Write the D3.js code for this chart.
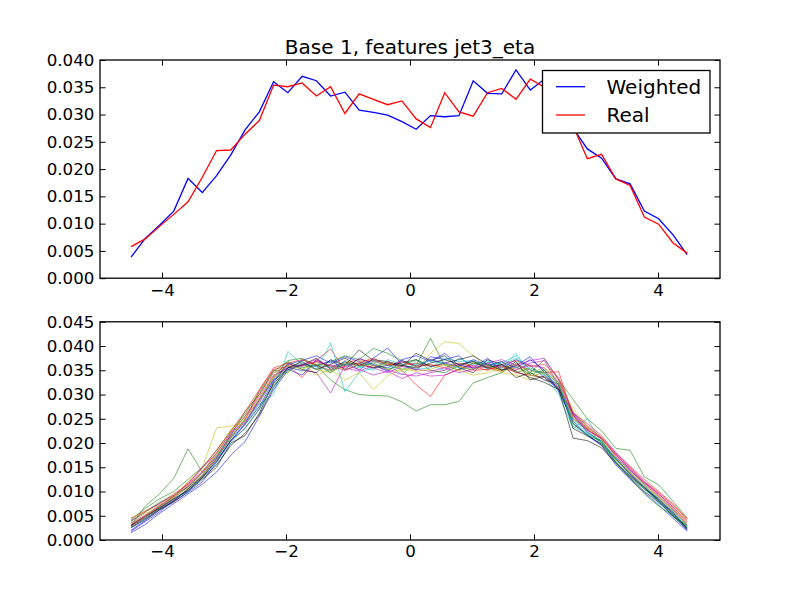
<!DOCTYPE html>
<html>
<head>
<meta charset="utf-8">
<script src="https://cdn.jsdelivr.net/npm/d3@7"></script>
<style>
  body { margin: 0; background: #fff; }
  svg { display: block; font-family: "DejaVu Sans", sans-serif; }
</style>
</head>
<body>
<svg id="chart" width="800" height="600"></svg>
<script>
// bin centres shared by both panels
const binCenters = [-4.50, -4.27, -4.04, -3.81, -3.58, -3.35, -3.12, -2.89, -2.66, -2.43,
  -2.20, -1.97, -1.74, -1.51, -1.28, -1.05, -0.82, -0.59, -0.36, -0.13,
  0.10, 0.33, 0.56, 0.79, 1.02, 1.25, 1.48, 1.71, 1.94, 2.17,
  2.40, 2.63, 2.86, 3.09, 3.32, 3.55, 3.78, 4.01, 4.24, 4.47];

// top panel
const weighted = [0.00385, 0.0073, 0.0097, 0.0123, 0.0183, 0.0157, 0.0188, 0.0226, 0.0272, 0.0305,
  0.0360, 0.0340, 0.0370, 0.0362, 0.0334, 0.0341, 0.0308, 0.0304, 0.0299, 0.0287,
  0.0273, 0.0298, 0.0296, 0.0298, 0.0362, 0.0339, 0.0338, 0.0382, 0.0345, 0.0365,
  0.0320, 0.0275, 0.0237, 0.0220, 0.0182, 0.0173, 0.0123, 0.0109, 0.0080, 0.0043];
const real = [0.0058, 0.0072, 0.0095, 0.0117, 0.0140, 0.0185, 0.0234, 0.0235, 0.0264, 0.0289,
  0.0354, 0.0351, 0.0358, 0.0334, 0.0351, 0.0302, 0.0338, 0.0328, 0.0318, 0.0325,
  0.0292, 0.0276, 0.0340, 0.0305, 0.0297, 0.0340, 0.0348, 0.0328, 0.0365, 0.0350,
  0.0330, 0.0280, 0.0219, 0.0227, 0.0182, 0.0170, 0.0112, 0.0099, 0.0065, 0.0046];

// bottom panel, one array per line
const run01 = [0.0020,0.0040,0.0062,0.0080,0.0098,0.0120,0.0160,0.0205,0.0240,0.0290,0.0330,0.0352,0.0340,0.0372,0.0355,0.0368,0.0350,0.0375,0.0396,0.0362,0.0350,0.0378,0.0372,0.0380,0.0352,0.0365,0.0355,0.0372,0.0360,0.0335,0.0310,0.0262,0.0230,0.0200,0.0165,0.0135,0.0110,0.0085,0.0058,0.0022];
const run02 = [0.0030,0.0070,0.0095,0.0127,0.0188,0.0140,0.0175,0.0215,0.0265,0.0300,0.0350,0.0345,0.0372,0.0360,0.0330,0.0310,0.0300,0.0298,0.0297,0.0285,0.0266,0.0279,0.0279,0.0286,0.0324,0.0335,0.0345,0.0365,0.0345,0.0372,0.0330,0.0290,0.0250,0.0225,0.0189,0.0185,0.0130,0.0114,0.0080,0.0045];
const run03 = [0.0045,0.0060,0.0075,0.0095,0.0115,0.0140,0.0180,0.0220,0.0255,0.0300,0.0345,0.0360,0.0335,0.0370,0.0394,0.0350,0.0362,0.0355,0.0368,0.0350,0.0320,0.0296,0.0340,0.0352,0.0365,0.0355,0.0348,0.0362,0.0350,0.0345,0.0347,0.0255,0.0232,0.0210,0.0175,0.0145,0.0118,0.0095,0.0068,0.0040];
const run04 = [0.0030,0.0050,0.0072,0.0088,0.0110,0.0138,0.0168,0.0210,0.0240,0.0280,0.0300,0.0389,0.0362,0.0352,0.0406,0.0306,0.0345,0.0355,0.0365,0.0340,0.0370,0.0360,0.0350,0.0375,0.0362,0.0370,0.0355,0.0385,0.0340,0.0335,0.0300,0.0230,0.0250,0.0200,0.0170,0.0145,0.0115,0.0075,0.0060,0.0028];
const run05 = [0.0035,0.0052,0.0070,0.0090,0.0112,0.0142,0.0172,0.0212,0.0245,0.0288,0.0338,0.0355,0.0350,0.0345,0.0303,0.0360,0.0352,0.0340,0.0348,0.0333,0.0345,0.0338,0.0340,0.0352,0.0360,0.0355,0.0352,0.0350,0.0365,0.0370,0.0318,0.0260,0.0228,0.0210,0.0172,0.0142,0.0118,0.0092,0.0065,0.0032];
const run06 = [0.0040,0.0055,0.0065,0.0088,0.0120,0.0150,0.0231,0.0235,0.0240,0.0275,0.0320,0.0345,0.0365,0.0340,0.0352,0.0330,0.0345,0.0310,0.0338,0.0355,0.0350,0.0385,0.0409,0.0405,0.0380,0.0355,0.0345,0.0340,0.0330,0.0352,0.0325,0.0270,0.0235,0.0208,0.0165,0.0138,0.0112,0.0088,0.0062,0.0035];
const run07 = [0.0025,0.0042,0.0062,0.0078,0.0100,0.0125,0.0150,0.0200,0.0215,0.0262,0.0325,0.0365,0.0352,0.0345,0.0372,0.0360,0.0392,0.0370,0.0365,0.0358,0.0385,0.0370,0.0380,0.0355,0.0345,0.0372,0.0362,0.0335,0.0345,0.0330,0.0322,0.0230,0.0215,0.0198,0.0168,0.0135,0.0105,0.0085,0.0055,0.0025];
const run08 = [0.0018,0.0038,0.0058,0.0082,0.0102,0.0128,0.0165,0.0205,0.0238,0.0275,0.0328,0.0362,0.0370,0.0380,0.0365,0.0378,0.0368,0.0360,0.0355,0.0372,0.0380,0.0368,0.0385,0.0360,0.0355,0.0375,0.0350,0.0360,0.0378,0.0345,0.0315,0.0258,0.0222,0.0202,0.0168,0.0138,0.0108,0.0082,0.0052,0.0020];
const run09 = [0.0038,0.0058,0.0078,0.0092,0.0110,0.0132,0.0168,0.0210,0.0250,0.0290,0.0335,0.0370,0.0375,0.0360,0.0368,0.0380,0.0372,0.0395,0.0385,0.0370,0.0360,0.0416,0.0360,0.0350,0.0365,0.0358,0.0368,0.0345,0.0355,0.0342,0.0310,0.0250,0.0225,0.0198,0.0160,0.0130,0.0105,0.0080,0.0048,0.0028];
const run10 = [0.0032,0.0050,0.0066,0.0082,0.0105,0.0132,0.0168,0.0218,0.0248,0.0308,0.0352,0.0358,0.0360,0.0368,0.0358,0.0365,0.0372,0.0368,0.0362,0.0360,0.0365,0.0358,0.0362,0.0358,0.0350,0.0352,0.0358,0.0345,0.0340,0.0335,0.0315,0.0252,0.0228,0.0208,0.0175,0.0148,0.0120,0.0098,0.0072,0.0045];
const run11 = [0.0028,0.0046,0.0064,0.0084,0.0104,0.0134,0.0172,0.0218,0.0245,0.0282,0.0330,0.0358,0.0348,0.0362,0.0355,0.0365,0.0358,0.0350,0.0372,0.0362,0.0352,0.0355,0.0375,0.0368,0.0370,0.0352,0.0365,0.0380,0.0352,0.0340,0.0318,0.0248,0.0220,0.0205,0.0168,0.0140,0.0112,0.0085,0.0058,0.0026];
const run12 = [0.0030,0.0050,0.0068,0.0086,0.0110,0.0138,0.0170,0.0215,0.0242,0.0285,0.0332,0.0362,0.0358,0.0368,0.0360,0.0355,0.0348,0.0360,0.0350,0.0342,0.0338,0.0345,0.0350,0.0362,0.0355,0.0358,0.0360,0.0352,0.0360,0.0355,0.0325,0.0258,0.0226,0.0210,0.0178,0.0145,0.0115,0.0090,0.0062,0.0030];
const run13 = [0.0034,0.0050,0.0070,0.0088,0.0108,0.0135,0.0170,0.0212,0.0250,0.0290,0.0335,0.0350,0.0362,0.0352,0.0345,0.0362,0.0370,0.0360,0.0352,0.0348,0.0360,0.0372,0.0362,0.0350,0.0340,0.0345,0.0355,0.0362,0.0345,0.0355,0.0330,0.0265,0.0230,0.0200,0.0165,0.0138,0.0110,0.0088,0.0060,0.0032];
const run14 = [0.0026,0.0044,0.0064,0.0080,0.0106,0.0130,0.0162,0.0205,0.0230,0.0270,0.0322,0.0355,0.0360,0.0375,0.0352,0.0362,0.0365,0.0355,0.0360,0.0365,0.0372,0.0358,0.0365,0.0372,0.0380,0.0362,0.0350,0.0368,0.0330,0.0338,0.0312,0.0240,0.0218,0.0195,0.0160,0.0132,0.0108,0.0082,0.0055,0.0024];
const run15 = [0.0015,0.0032,0.0055,0.0075,0.0095,0.0115,0.0140,0.0175,0.0203,0.0255,0.0310,0.0350,0.0362,0.0358,0.0370,0.0352,0.0375,0.0362,0.0348,0.0370,0.0358,0.0372,0.0365,0.0358,0.0372,0.0360,0.0368,0.0355,0.0372,0.0350,0.0305,0.0245,0.0215,0.0195,0.0155,0.0125,0.0098,0.0072,0.0045,0.0018];
const run16 = [0.0042,0.0065,0.0085,0.0100,0.0125,0.0150,0.0185,0.0225,0.0260,0.0305,0.0348,0.0368,0.0355,0.0362,0.0345,0.0370,0.0358,0.0365,0.0352,0.0360,0.0372,0.0350,0.0345,0.0360,0.0368,0.0362,0.0350,0.0358,0.0342,0.0350,0.0320,0.0240,0.0215,0.0205,0.0160,0.0128,0.0095,0.0070,0.0050,0.0030];
const run17 = [0.0028,0.0046,0.0070,0.0090,0.0118,0.0148,0.0185,0.0225,0.0265,0.0310,0.0355,0.0365,0.0372,0.0360,0.0350,0.0358,0.0365,0.0375,0.0360,0.0368,0.0358,0.0362,0.0355,0.0365,0.0358,0.0350,0.0362,0.0370,0.0358,0.0362,0.0335,0.0262,0.0240,0.0215,0.0180,0.0152,0.0125,0.0100,0.0075,0.0042];
const run18 = [0.0025,0.0044,0.0068,0.0085,0.0100,0.0128,0.0160,0.0200,0.0232,0.0270,0.0318,0.0352,0.0365,0.0358,0.0348,0.0362,0.0355,0.0368,0.0360,0.0352,0.0362,0.0370,0.0362,0.0355,0.0352,0.0368,0.0360,0.0375,0.0350,0.0345,0.0325,0.0235,0.0218,0.0202,0.0162,0.0130,0.0105,0.0078,0.0052,0.0022];
const run19 = [0.0040,0.0058,0.0075,0.0092,0.0115,0.0150,0.0178,0.0222,0.0255,0.0295,0.0340,0.0355,0.0362,0.0372,0.0358,0.0350,0.0362,0.0355,0.0345,0.0358,0.0352,0.0348,0.0355,0.0345,0.0352,0.0365,0.0372,0.0360,0.0370,0.0375,0.0330,0.0262,0.0235,0.0212,0.0180,0.0150,0.0120,0.0095,0.0068,0.0036];
const run20 = [0.0045,0.0058,0.0072,0.0092,0.0112,0.0140,0.0178,0.0228,0.0252,0.0292,0.0338,0.0360,0.0352,0.0365,0.0358,0.0352,0.0362,0.0358,0.0365,0.0352,0.0348,0.0352,0.0362,0.0358,0.0352,0.0360,0.0348,0.0355,0.0338,0.0345,0.0322,0.0255,0.0232,0.0212,0.0170,0.0140,0.0115,0.0090,0.0065,0.0040];
const run21 = [0.0030,0.0048,0.0066,0.0085,0.0102,0.0128,0.0155,0.0195,0.0220,0.0258,0.0315,0.0355,0.0368,0.0352,0.0362,0.0375,0.0360,0.0372,0.0368,0.0360,0.0355,0.0365,0.0372,0.0362,0.0368,0.0355,0.0362,0.0348,0.0335,0.0325,0.0310,0.0210,0.0205,0.0190,0.0158,0.0128,0.0100,0.0078,0.0050,0.0022];
const runs = [run01, run02, run03, run04, run05, run06, run07, run08, run09, run10, run11,
  run12, run13, run14, run15, run16, run17, run18, run19, run20, run21];

const xTicks = [-4, -2, 0, 2, 4];
const yTicksTop = [0, 0.005, 0.01, 0.015, 0.02, 0.025, 0.03, 0.035, 0.04];
const yTicksBottom = [0, 0.005, 0.01, 0.015, 0.02, 0.025, 0.03, 0.035, 0.04, 0.045];

// matplotlib classic colour cycle
const cycle = ['#0000ff', '#008000', '#ff0000', '#00bfbf', '#bf00bf', '#bfbf00', '#000000'];

const svg = d3.select("#chart");
const left = 100, right = 720;
const tick = 5.6;

function drawPanel(top, bottom, yMax, yTicks) {
    const x = d3.scaleLinear().domain([-5, 5]).range([left, right]);
    const y = d3.scaleLinear().domain([0, yMax]).range([bottom, top]);
    const g = svg.append("g");

    const fmtX = d3.format("d");
    const fmtY = d3.format(".3f");

    const ax = (axis, tx, ty, fmt) => {
        const a = g.append("g").attr("transform", `translate(${tx},${ty})`).call(axis.tickFormat(fmt));
        a.select(".domain").remove();
        a.selectAll("line").attr("stroke", "#000").attr("stroke-width", 1);
        a.selectAll("text").attr("fill", "#000").style("font-size", "16.67px")
            .style("font-family", "'DejaVu Sans', sans-serif");
        return a;
    };
    ax(d3.axisBottom(x).tickValues(xTicks).tickSizeInner(-tick).tickSizeOuter(0).tickPadding(5.6), 0, bottom, fmtX);
    ax(d3.axisTop(x).tickValues(xTicks).tickSizeInner(-tick).tickSizeOuter(0), 0, top, () => "");
    ax(d3.axisLeft(y).tickValues(yTicks).tickSizeInner(-tick).tickSizeOuter(0).tickPadding(5.6), left, 0, fmtY);
    ax(d3.axisRight(y).tickValues(yTicks).tickSizeInner(-tick).tickSizeOuter(0), right, 0, () => "");

    return { g, x, y };
}

const topPanel = drawPanel(60, 278.2, 0.04, yTicksTop);
const botPanel = drawPanel(321.8, 540, 0.045, yTicksBottom);

// top lines
const lineTop = d3.line().x((d, i) => topPanel.x(binCenters[i])).y(d => topPanel.y(d));
topPanel.g.append("path").datum(weighted).attr("d", lineTop)
    .attr("fill", "none").attr("stroke", "#0000ff").attr("stroke-width", 1.3);
topPanel.g.append("path").datum(real).attr("d", lineTop)
    .attr("fill", "none").attr("stroke", "#ff0000").attr("stroke-width", 1.3);

// bottom lines
const lineBot = d3.line().x((d, i) => botPanel.x(binCenters[i])).y(d => botPanel.y(d));
botPanel.g.selectAll("path.run").data(runs).join("path")
    .attr("class", "run")
    .attr("d", lineBot)
    .attr("fill", "none")
    .attr("stroke", (d, i) => cycle[i % cycle.length])
    .attr("stroke-width", 0.8)
    .attr("stroke-opacity", 0.7);

// spines on top of the lines
[[60, 278.2], [321.8, 540]].forEach(([t, b]) => {
    svg.append("rect").attr("x", left).attr("y", t).attr("width", right - left).attr("height", b - t)
        .attr("fill", "none").attr("stroke", "#000").attr("stroke-width", 1.3);
});

// title
svg.append("text").attr("x", 410).attr("y", 53.5).attr("text-anchor", "middle")
    .style("font-size", "20px").text("Base 1, features jet3_eta");

// legend
const legend = svg.append("g");
legend.append("rect").attr("x", 542.5).attr("y", 70.5).attr("width", 167.5).attr("height", 62.5)
    .attr("fill", "#fff").attr("stroke", "#000").attr("stroke-width", 1.3);
const legendItems = [["Weighted", "#0000ff"], ["Real", "#ff0000"]];
legendItems.forEach(([label, color], i) => {
    const cy = 86.7 + i * 28.3;
    legend.append("line").attr("x1", 556).attr("x2", 585).attr("y1", cy).attr("y2", cy)
        .attr("stroke", color).attr("stroke-width", 1.3);
    legend.append("text").attr("x", 606.5).attr("y", cy + 7.2).style("font-size", "20px").text(label);
});
</script>
</body>
</html>
